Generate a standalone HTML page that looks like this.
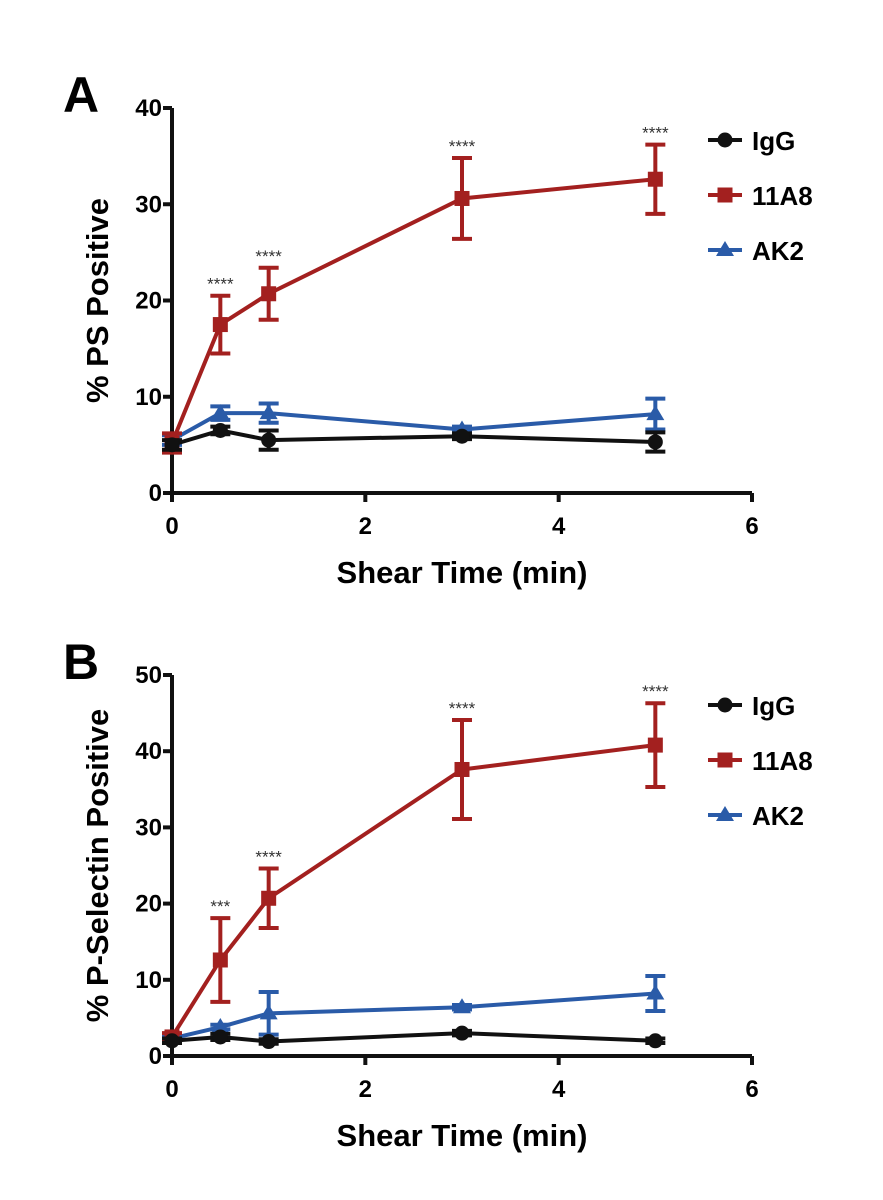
<!DOCTYPE html>
<html><head><meta charset="utf-8"><style>
html,body{margin:0;padding:0;background:#fff;}
svg{display:block;font-family:"Liberation Sans",Arial,sans-serif;}
</style></head><body>
<svg id="fig" width="883" height="1200" viewBox="0 0 883 1200"></svg>
<script>
const times = [0, 0.5, 1, 3, 5];
const seriesNames = ["IgG", "11A8", "AK2"];
const aIgG = [5.0, 6.5, 5.5, 5.9, 5.3];
const aIgGErr = [0.5, 0.4, 1.0, 0.3, 1.0];
const a11A8 = [5.2, 17.5, 20.7, 30.6, 32.6];
const a11A8Err = [1.0, 3.0, 2.7, 4.2, 3.6];
const aAK2 = [5.5, 8.3, 8.3, 6.6, 8.2];
const aAK2Err = [0.5, 0.7, 1.0, 0.3, 1.6];
const aStars = ["", "****", "****", "****", "****"];
const bIgG = [2.0, 2.5, 1.9, 3.0, 2.0];
const bIgGErr = [0.3, 0.4, 0.3, 0.3, 0.3];
const b11A8 = [2.5, 12.6, 20.7, 37.6, 40.8];
const b11A8Err = [0.5, 5.5, 3.9, 6.5, 5.5];
const bAK2 = [2.3, 3.8, 5.6, 6.4, 8.2];
const bAK2Err = [0.3, 0.3, 2.8, 0.3, 2.3];
const bStars = ["", "***", "****", "****", "****"];
const xTicks = [0, 2, 4, 6];
const aYTicks = [0, 10, 20, 30, 40];
const bYTicks = [0, 10, 20, 30, 40, 50];

const NS = "http://www.w3.org/2000/svg";
const svg = document.getElementById("fig");
function mk(tag, attrs, parent, text) {
  const e = document.createElementNS(NS, tag);
  for (const k in attrs) e.setAttribute(k, attrs[k]);
  if (text !== undefined) e.textContent = text;
  (parent || svg).appendChild(e);
  return e;
}
const colors = ["#111111", "#a3201f", "#2a5ba8"];

function panel(cfg) {
  const g = mk("g", {});
  
  
  const x0 = 172, x1 = 752;
  const xs = v => x0 + (v - 0) / 6 * (x1 - x0);
  const ys = v => cfg.yb - v / cfg.ymax * (cfg.yb - cfg.yt);
  const L = mk("text", {x: 63, y: cfg.yt + 4, "font-size": 50, "font-weight": "bold"}, g, cfg.letter);
  
  
  const ax = mk("path", {d: `M${x0},${cfg.yt} V${cfg.yb} H${x1}`, stroke: "#111", "stroke-width": 4, fill: "none"}, g);
  
  
  cfg.yTicks.forEach(t => {
    const y = ys(t);
    mk("line", {x1: x0 - 9, x2: x0, y1: y, y2: y, stroke: "#111", "stroke-width": 4}, g);
    const tl = mk("text", {x: x0 - 10, y: y + 8, "font-size": 24, "font-weight": "bold", "text-anchor": "end"}, g, t);
    
    
  });
  xTicks.forEach(t => {
    const x = xs(t);
    mk("line", {x1: x, x2: x, y1: cfg.yb, y2: cfg.yb + 9, stroke: "#111", "stroke-width": 4}, g);
    const tl = mk("text", {x: x, y: cfg.yb + 41, "font-size": 24, "font-weight": "bold", "text-anchor": "middle"}, g, t);
    
    
  });
  const xl = mk("text", {x: 462, y: cfg.yb + 90, "font-size": 31, "font-weight": "bold", "text-anchor": "middle"}, g, "Shear Time (min)");
  
  
  const ymid = (cfg.yt + cfg.yb) / 2;
  const yl = mk("text", {x: 0, y: 0, "font-size": 31, "font-weight": "bold", "text-anchor": "middle", transform: `translate(108,${ymid}) rotate(-90)`}, g, cfg.ylabel);
  
  
  const order = [2, 1, 0];
  order.forEach(si => {
    const vals = cfg.vals[si], errs = cfg.errs[si], c = colors[si];
    const sg = mk("g", {}, g);
    
    
    const pts = times.map((t, i) => xs(t) + "," + ys(vals[i])).join(" ");
    mk("polyline", {points: pts, fill: "none", stroke: c, "stroke-width": 4}, sg);
    times.forEach((t, i) => {
      const x = xs(t), yh = ys(vals[i] + errs[i]), yl2 = ys(vals[i] - errs[i]);
      mk("path", {d: `M${x},${yh} V${yl2} M${x-10},${yh} H${x+10} M${x-10},${yl2} H${x+10}`, stroke: c, "stroke-width": 4, fill: "none"}, sg);
      const y = ys(vals[i]);
      let m;
      if (si === 0) m = mk("circle", {cx: x, cy: y, r: 7.5, fill: c}, sg);
      else if (si === 1) m = mk("rect", {x: x - 7.5, y: y - 7.5, width: 15, height: 15, fill: c}, sg);
      else m = mk("polygon", {points: `${x},${y-9} ${x+9},${y+6} ${x-9},${y+6}`, fill: c}, sg);
      
      
    });
  });
  times.forEach((t, i) => {
    if (!cfg.stars[i]) return;
    const s = mk("text", {x: xs(t), y: ys(cfg.vals[1][i] + cfg.errs[1][i]) - 6, "font-size": 17, "text-anchor": "middle", fill: "#333"}, g, cfg.stars[i]);
    
    
  });
  seriesNames.forEach((n, si) => {
    const ly = cfg.legY + si * 55, c = colors[si];
    const lg = mk("g", {}, g);
    
    
    mk("line", {x1: 708, x2: 742, y1: ly, y2: ly, stroke: c, "stroke-width": 4}, lg);
    if (si === 0) mk("circle", {cx: 725, cy: ly, r: 7.5, fill: c}, lg);
    else if (si === 1) mk("rect", {x: 717.5, y: ly - 7.5, width: 15, height: 15, fill: c}, lg);
    else mk("polygon", {points: `725,${ly-9} 734,${ly+6} 716,${ly+6}`, fill: c}, lg);
    mk("text", {x: 752, y: ly + 10, "font-size": 26, "font-weight": "bold"}, lg, n);
  });
}
panel({id: "panel-a", letter: "A", yt: 108, yb: 493, ymax: 40, yTicks: aYTicks, ylabel: "% PS Positive",
  vals: [aIgG, a11A8, aAK2], errs: [aIgGErr, a11A8Err, aAK2Err], stars: aStars, legY: 140});
panel({id: "panel-b", letter: "B", yt: 675, yb: 1056, ymax: 50, yTicks: bYTicks, ylabel: "% P-Selectin Positive",
  vals: [bIgG, b11A8, bAK2], errs: [bIgGErr, b11A8Err, bAK2Err], stars: bStars, legY: 705});
</script>
</body></html>
